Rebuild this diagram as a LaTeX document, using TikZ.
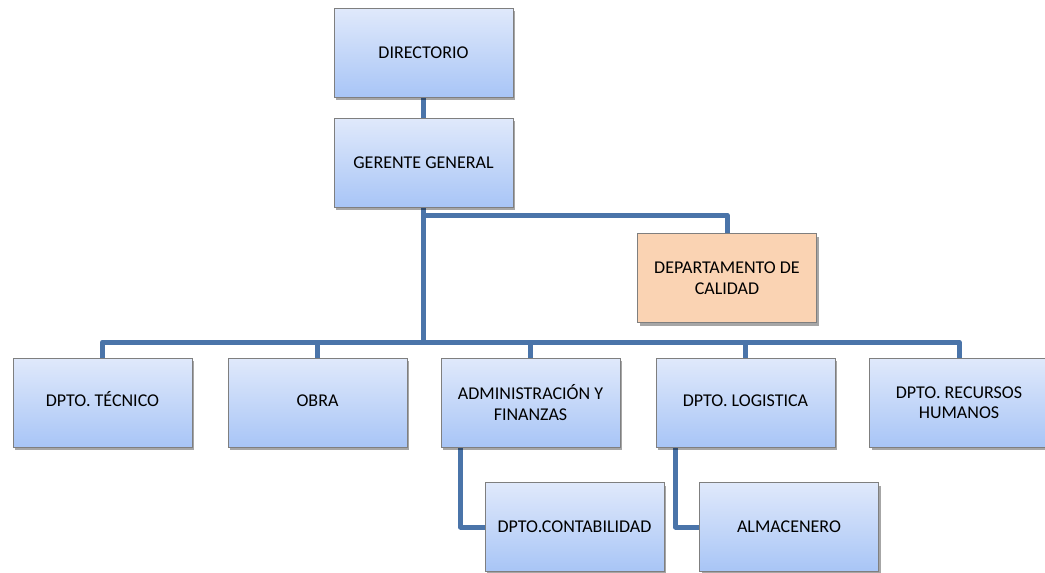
\documentclass[tikz,border=0pt]{standalone}
\usepackage{fontspec}
\setmainfont{Carlito}
\usetikzlibrary{shadows}
\definecolor{boxtop}{HTML}{E0E9FB}
\definecolor{boxbot}{HTML}{A8C5F6}
\definecolor{boxline}{HTML}{7F7F7F}
\definecolor{qualfill}{HTML}{FAD3B3}
\definecolor{link}{HTML}{4A74A9}
\pgfdeclarelayer{background}
\pgfsetlayers{background,main}
\tikzset{
  unit/.style={draw=boxline, line width=0.8pt, top color=boxtop, bottom color=boxbot,
    minimum width=179pt, minimum height=89pt, inner sep=2pt, align=center,
    font=\fontsize{18}{20.5}\selectfont, text=black,
    drop shadow={shadow xshift=2pt, shadow yshift=-3pt, fill=black, opacity=0.35}},
  quality/.style={unit, top color=qualfill, bottom color=qualfill},
  wire/.style={draw=link, line width=5pt, line join=round}
}
\begin{document}
\begin{tikzpicture}[x=1pt, y=-1pt]
\useasboundingbox (0,0) rectangle (1045,573);
% boxes
\node[unit] (dir) at (423.5,52.5) {DIRECTORIO};
\node[unit] (gg) at (423.5,162.5) {GERENTE GENERAL};
\node[quality] (cal) at (727,278) {DEPARTAMENTO DE\\CALIDAD};
\node[unit] (tec) at (102.5,402.5) {\strut DPTO. TÉCNICO};
\node[unit] (obra) at (317.5,402.5) {\strut OBRA};
\node[unit] (adm) at (530.5,402.5) {ADMINISTRACIÓN Y\\FINANZAS};
\node[unit] (log) at (745.5,402.5) {\strut DPTO. LOGISTICA};
\node[unit] (rrhh) at (959,402.5) {DPTO. RECURSOS\\HUMANOS};
\node[unit] (cont) at (574.5,527) {DPTO.CONTABILIDAD};
\node[unit] (alm) at (789,527) {ALMACENERO};
% connectors behind the boxes
\begin{pgfonlayer}{background}
\draw[wire] (dir.south) -- (gg.north);
\draw[wire] (gg.south) |- (cal.north |- 0,215) -- (cal.north);
\draw[wire] (gg.south) -- (gg.south |- 0,342);
\draw[wire] (tec.north) |- (rrhh.north |- 0,342) -- (rrhh.north);
\foreach \n in {obra,adm,log}
  \draw[wire] (\n.north) -- (\n.north |- 0,342);
\draw[wire] ([xshift=-70pt]adm.south) |- (cont.west);
\draw[wire] ([xshift=-70pt]log.south) |- (alm.west);
\end{pgfonlayer}
\end{tikzpicture}
\end{document}
